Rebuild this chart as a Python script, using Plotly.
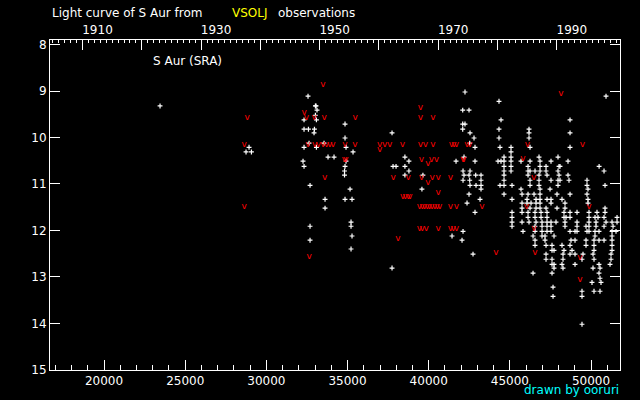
import plotly.graph_objects as go

# visual estimates (JD-2400000, mag)
visual = [
    (23449, 9.32), (28932, 10.21), (28747, 10.31), (29080, 10.31),
    (42236, 9.02), (32566, 9.11), (33021, 9.32), (33060, 9.32), (33120, 9.41),
    (33021, 9.52), (32320, 9.62), (33083, 9.62), (42096, 9.41), (42484, 9.41),
    (34845, 9.71), (42096, 9.71), (42236, 9.71), (32320, 9.82), (32591, 9.82),
    (32961, 9.82), (32936, 9.90), (37741, 9.90), (42096, 9.82), (42545, 9.90),
    (34845, 10.01), (42792, 10.01), (32628, 10.12), (33552, 10.12), (42527, 10.12),
    (32320, 10.21), (33083, 10.21), (34907, 10.21), (42853, 10.21), (35338, 10.31),
    (33798, 10.42), (34168, 10.42), (38535, 10.42), (42175, 10.42), (32258, 10.51),
    (34907, 10.51), (38782, 10.51), (41684, 10.51), (42853, 10.51), (32320, 10.62),
    (34845, 10.62), (37803, 10.62), (37988, 10.62), (38535, 10.62), (34814, 10.72),
    (38782, 10.72), (42115, 10.72), (42545, 10.72), (34814, 10.81), (38535, 10.81),
    (39644, 10.81), (42175, 10.81), (42484, 10.81), (42896, 10.81), (42115, 10.92),
    (42527, 10.92), (32690, 11.03), (35154, 11.11), (39583, 11.11), (42545, 11.03),
    (42915, 11.03), (42484, 11.22), (33614, 11.33), (34845, 11.33), (35276, 11.33),
    (42361, 11.41), (33614, 11.52), (42853, 11.61), (35215, 11.82), (32690, 11.91),
    (35215, 11.91), (35276, 12.12), (32690, 12.21), (41437, 12.12), (42115, 12.02),
    (42053, 12.21), (35215, 12.40), (37741, 12.81), (42730, 12.51),
    (44331, 9.22), (50924, 9.11), (44455, 9.62), (48706, 9.62), (44331, 9.82),
    (46180, 9.82), (46180, 9.90), (48706, 9.90), (44331, 10.01), (46180, 10.01),
    (44393, 10.21), (45071, 10.21), (46242, 10.21), (48706, 10.21), (45071, 10.31),
    (44640, 10.42), (45071, 10.42), (46796, 10.42), (47966, 10.42),
    (44270, 10.51), (44455, 10.51), (44640, 10.51), (45071, 10.51), (45687, 10.51),
    (46242, 10.51), (46858, 10.51), (47535, 10.51), (48582, 10.51),
    (44640, 10.62), (45071, 10.62), (46119, 10.62), (46858, 10.62), (47228, 10.62),
    (48028, 10.62), (48089, 10.62), (50498, 10.62),
    (44640, 10.72), (45071, 10.72), (46119, 10.72), (46242, 10.72), (46550, 10.72),
    (46858, 10.72), (47228, 10.72), (47966, 10.72), (50801, 10.72),
    (43223, 10.81), (44640, 10.81), (46119, 10.81), (46796, 10.81), (47289, 10.81),
    (48028, 10.81), (48582, 10.81),
    (43223, 10.92), (44640, 10.92), (46242, 10.92), (46796, 10.92), (47535, 10.92),
    (47966, 10.92), (48089, 10.92), (48643, 10.92), (49752, 10.92),
    (43223, 11.03), (44393, 11.03), (44640, 11.03), (45133, 11.03), (46242, 11.03),
    (46796, 11.03), (47966, 11.03), (49752, 11.03), (50862, 11.03),
    (43223, 11.11), (45687, 11.11), (46858, 11.11), (47474, 11.11), (49813, 11.11),
    (44640, 11.22), (45749, 11.22), (46119, 11.22), (46489, 11.22), (46858, 11.22),
    (47904, 11.22), (48706, 11.22), (49752, 11.22),
    (43162, 11.33), (45133, 11.33), (46058, 11.33), (46612, 11.33), (46858, 11.33),
    (47289, 11.33), (47535, 11.33), (48212, 11.33), (49813, 11.33),
    (45749, 11.41), (46058, 11.41), (46304, 11.41), (46612, 11.41), (46858, 11.41),
    (47535, 11.41), (48397, 11.41), (49813, 11.41),
    (45749, 11.52), (46242, 11.52), (46612, 11.52), (46858, 11.52), (47228, 11.52),
    (47904, 11.52), (48397, 11.52), (50862, 11.52),
    (45133, 11.61), (45749, 11.61), (46119, 11.61), (46550, 11.61), (46920, 11.61),
    (47289, 11.61), (48335, 11.61), (48706, 11.61), (49137, 11.61), (49875, 11.61),
    (50368, 11.61), (50862, 11.61),
    (45133, 11.72), (46119, 11.72), (46550, 11.72), (46920, 11.72), (47289, 11.72),
    (48335, 11.72), (48459, 11.72), (48706, 11.72), (49875, 11.72), (50245, 11.72),
    (50430, 11.72), (50801, 11.72), (51602, 11.72),
    (45133, 11.82), (45749, 11.82), (46180, 11.82), (46612, 11.82), (46981, 11.82),
    (47289, 11.82), (47535, 11.82), (47843, 11.82), (48397, 11.82), (49137, 11.82),
    (49875, 11.82), (50307, 11.82), (50924, 11.82), (51294, 11.82), (51602, 11.82),
    (45133, 11.91), (46550, 11.91), (46981, 11.91), (47289, 11.91), (47535, 11.91),
    (48397, 11.91), (49137, 11.91), (49691, 11.91), (49875, 11.91), (50307, 11.91),
    (50801, 11.91), (51356, 11.91),
    (45810, 12.02), (46550, 12.02), (46981, 12.02), (47289, 12.02), (47535, 12.02),
    (48706, 12.02), (49014, 12.02), (49137, 12.02), (49752, 12.02), (49875, 12.02),
    (50245, 12.02), (50492, 12.02), (51294, 12.02), (51540, 12.02),
    (46427, 12.12), (46981, 12.12), (47166, 12.12), (47720, 12.12), (50245, 12.12),
    (51294, 12.12),
    (46550, 12.21), (47166, 12.21), (48767, 12.21), (49014, 12.21), (49691, 12.21),
    (50184, 12.21), (50492, 12.21), (50801, 12.21), (51294, 12.21),
    (46550, 12.32), (47228, 12.32), (47597, 12.32), (48212, 12.32), (48706, 12.32),
    (49691, 12.32), (50184, 12.32), (51294, 12.32),
    (47597, 12.43), (47720, 12.43), (48335, 12.43), (48829, 12.43), (50184, 12.43),
    (51294, 12.43),
    (47228, 12.51), (48274, 12.51), (48706, 12.51), (49014, 12.51), (49506, 12.51),
    (50122, 12.51), (51232, 12.51),
    (47228, 12.62), (47597, 12.62), (48274, 12.62), (49444, 12.62), (50184, 12.62),
    (51232, 12.62),
    (47597, 12.73), (47720, 12.73), (48212, 12.73), (49014, 12.73), (50492, 12.73),
    (51171, 12.73),
    (47720, 12.81), (48274, 12.81), (50122, 12.81), (50553, 12.81),
    (46427, 12.92), (47597, 12.92), (50492, 12.92),
    (50553, 13.03), (50060, 13.12), (50615, 13.12), (47659, 13.22),
    (49444, 13.31), (50184, 13.31), (50553, 13.31), (47659, 13.42), (49444, 13.42),
    (49444, 14.02),
]

# "fainter than" estimates (JD-2400000, mag)
fainter = [
    (28809, 9.58), (28624, 10.16), (28624, 11.48),
    (33490, 8.86), (32320, 9.47), (32468, 9.57), (32936, 9.57), (33552, 9.57),
    (35462, 9.57), (39490, 9.36), (39490, 9.57), (40266, 9.57),
    (32566, 10.16), (32979, 10.16), (33200, 10.16), (33490, 10.16), (33700, 10.16),
    (33903, 10.16), (34106, 10.16), (34845, 10.16), (35461, 10.16), (36983, 10.16),
    (37291, 10.16), (37599, 10.16), (38381, 10.16), (39490, 10.16), (39798, 10.16),
    (40266, 10.16), (41400, 10.16), (41550, 10.16), (41708, 10.16), (42361, 10.16),
    (42527, 10.16), (36983, 10.26),
    (34814, 10.47), (34900, 10.47), (39552, 10.47), (40168, 10.47), (40476, 10.47),
    (42100, 10.47), (42158, 10.47), (39952, 10.57),
    (33595, 10.87), (37803, 10.87), (38727, 10.87), (39552, 10.87), (40206, 10.87),
    (40575, 10.87), (41339, 10.87), (39952, 10.98), (40575, 11.18),
    (38400, 11.28), (38550, 11.28), (38727, 11.28), (38850, 11.28),
    (39430, 11.48), (39590, 11.48), (39740, 11.48), (39900, 11.48), (40050, 11.48),
    (40200, 11.48), (40360, 11.48), (40520, 11.48), (40670, 11.48), (41339, 11.48),
    (41708, 11.48),
    (39430, 11.97), (39600, 11.97), (39842, 11.97), (40575, 11.97), (41339, 11.97),
    (41500, 11.97), (41708, 11.97),
    (38110, 12.17), (32628, 12.56),
    (48151, 9.06), (46082, 10.16), (49471, 10.16), (45810, 10.46), (46470, 10.87),
    (43281, 11.48), (46020, 11.48), (49875, 11.48), (46489, 11.97), (46550, 12.47),
    (44147, 12.47), (49321, 12.58), (49321, 13.07),
]

year_ticks = [1910, 1920, 1930, 1940, 1950, 1960, 1970, 1980, 1990]
year_text = ["1910", "", "1930", "", "1950", "", "1970", "", "1990"]

jd_range = [16670, 51785]
# top axis in calendar years, same scale as JD
yr_range = [2000 + (j - 51544.5) / 365.25 for j in jd_range]

font = dict(family="DejaVu Sans", size=12, color="white")

fig = go.Figure()
fig.add_trace(go.Scatter(
    x=[v[0] for v in visual], y=[v[1] for v in visual],
    mode="markers",
    marker=dict(symbol="cross-thin", size=3.5, color="white",
                line=dict(color="white", width=1.2)),
    showlegend=False, hoverinfo="skip"))
fig.add_trace(go.Scatter(
    x=[v[0] for v in fainter], y=[v[1] for v in fainter],
    mode="text", text=["v"] * len(fainter), textposition="middle center",
    textfont=dict(family="DejaVu Sans", size=9, color="#ff0000"),
    showlegend=False, hoverinfo="skip"))
# dummy trace to hold the year axis
fig.add_trace(go.Scatter(x=yr_range, y=[None, None], xaxis="x2",
                         showlegend=False, hoverinfo="skip"))

ax_common = dict(showline=True, linecolor="white", linewidth=1,
                 ticks="inside", tickcolor="white", tickwidth=1,
                 showgrid=False, zeroline=False, tickfont=font)

fig.update_layout(
    width=640, height=400,
    paper_bgcolor="black", plot_bgcolor="black",
    margin=dict(l=50, r=20, t=40, b=30),
    xaxis=dict(range=jd_range, dtick=5000, tick0=0, ticklen=10,
               tickformat="d",
               minor=dict(dtick=1000, ticklen=5, ticks="inside",
                          tickcolor="white", showgrid=False),
               **ax_common),
    xaxis2=dict(range=yr_range, overlaying="x", side="top",
                tickmode="array", tickvals=year_ticks, ticktext=year_text,
                ticklen=10, ticklabelshift=15,
                minor=dict(dtick=1, ticklen=3, ticks="inside",
                           tickcolor="white", showgrid=False),
                **ax_common),
    yaxis=dict(range=[15.005, 7.9], dtick=1, ticklen=10, mirror="ticks",
               **ax_common),
)

fig.add_annotation(text="Light curve of S Aur from", x=0, y=1.082,
                   xref="paper", yref="paper", xanchor="left", yanchor="middle",
                   showarrow=False, font=font)
fig.add_annotation(text="VSOLJ", x=0.3158, y=1.082,
                   xref="paper", yref="paper", xanchor="left", yanchor="middle",
                   showarrow=False, font=dict(font, color="#ffff00"))
fig.add_annotation(text="observations", x=0.3965, y=1.082,
                   xref="paper", yref="paper", xanchor="left", yanchor="middle",
                   showarrow=False, font=font)
fig.add_annotation(text="S Aur (SRA)", x=0.177, y=0.935,
                   xref="paper", yref="paper", xanchor="left", yanchor="middle",
                   showarrow=False, font=font)
fig.add_annotation(text="drawn by ooruri", x=1.002, y=-0.06,
                   xref="paper", yref="paper", xanchor="right", yanchor="middle",
                   showarrow=False, font=dict(font, color="#00ffff"))

# page has a default 8px body margin; drop it so the figure sits at 0,0
fig.write_html("out.html", config={"displayModeBar": False},
               post_script="document.body.style.margin='0';")
